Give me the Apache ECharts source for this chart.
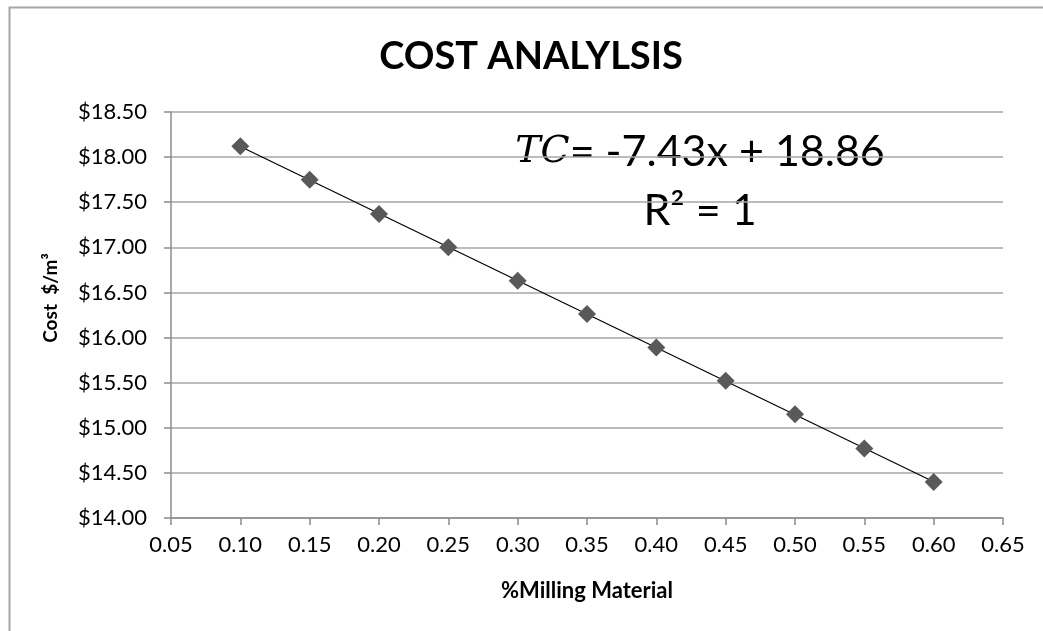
<!DOCTYPE html>
<html>
<head>
<meta charset="utf-8">
<script src="https://cdn.jsdelivr.net/npm/echarts@6/dist/echarts.min.js"></script>
<style>
html,body{margin:0;padding:0;background:#fff;}
#chart{width:1043px;height:631px;}
</style>
</head>
<body>
<div id="chart"></div>
<script>
// Data
var millingFraction = [0.10, 0.15, 0.20, 0.25, 0.30, 0.35, 0.40, 0.45, 0.50, 0.55, 0.60];
var costPerM3 = [18.12, 17.75, 17.37, 17.00, 16.63, 16.26, 15.89, 15.52, 15.15, 14.77, 14.40];
var trendSlope = -7.43;
var trendIntercept = 18.86;
var trendRange = [0.10, 0.60];
var titleText = 'COST ANALYLSIS';
var xAxisName = '%Milling Material';
var yAxisName = 'Cost  $/m\u00B3';

var points = millingFraction.map(function (x, i) { return [x, costPerM3[i]]; });
var trend = trendRange.map(function (x) { return [x, trendSlope * x + trendIntercept]; });

var FONT = 'Lato, "Open Sans", sans-serif';
var chart = echarts.init(document.getElementById('chart'));
chart.setOption({
  backgroundColor: '#fff',
  animation: false,
  title: {
    text: titleText,
    left: 526, top: 33, textAlign: 'center',
    textStyle: { fontFamily: FONT, fontSize: 38, fontWeight: 'bold', color: '#000' }
  },
  grid: { left: 171, right: 40, top: 112, bottom: 113 },
  xAxis: {
    type: 'value', min: 0.05, max: 0.65, interval: 0.05,
    name: xAxisName, nameLocation: 'middle', nameGap: 62,
    nameTextStyle: { fontFamily: FONT, fontSize: 22, fontWeight: 'bold', color: '#000' },
    axisLine: { show: true, onZero: false, lineStyle: { color: '#8c8c8c', width: 1.5 } },
    axisTick: { show: true, inside: false, length: 7, lineStyle: { color: '#8c8c8c', width: 1.5 } },
    axisLabel: { fontFamily: FONT, fontSize: 22, color: '#000', margin: 16,
      formatter: function (v) { return v.toFixed(2); } },
    splitLine: { show: false }
  },
  yAxis: {
    type: 'value', min: 14, max: 18.5, interval: 0.5,
    axisLine: { show: true, lineStyle: { color: '#8c8c8c', width: 1.5 } },
    axisTick: { show: true, inside: false, length: 7, lineStyle: { color: '#8c8c8c', width: 1.5 } },
    axisLabel: { fontFamily: FONT, fontSize: 22, color: '#000', margin: 24,
      formatter: function (v) { return '$' + v.toFixed(2); } },
    splitLine: { show: true, lineStyle: { color: '#a6a6a6', width: 1.5 } }
  },
  series: [
    {
      type: 'line', data: trend, symbol: 'none', silent: true, z: 2,
      lineStyle: { color: '#000', width: 1.2 }
    },
    {
      type: 'scatter', data: points, symbol: 'diamond', symbolSize: [18, 18], z: 3,
      itemStyle: { color: '#595959', opacity: 1 }
    }
  ],
  graphic: [
    {
      type: 'rect', left: 7, top: 5, silent: true,
      shape: { width: 1100, height: 700 },
      style: { fill: 'none', stroke: '#a6a6a6', lineWidth: 2 }
    },
    {
      type: 'text', x: 51, y: 298, rotation: Math.PI / 2, silent: true,
      style: {
        text: yAxisName, align: 'center', verticalAlign: 'middle',
        fontFamily: FONT, fontSize: 19, fontWeight: 'bold', fill: '#000'
      }
    },
    {
      type: 'text', x: 700, y: 152, silent: true,
      style: {
        text: '{i|TC}{n|= -7.43x + 18.86}',
        align: 'center', verticalAlign: 'middle',
        rich: {
          i: { fontFamily: '"DejaVu Serif", serif', fontStyle: 'italic', fontSize: 38, fill: '#000' },
          n: { fontFamily: FONT, fontSize: 43, fill: '#000' }
        }
      }
    },
    {
      type: 'text', x: 700, y: 211, silent: true,
      style: {
        text: 'R\u00B2 = 1', align: 'center', verticalAlign: 'middle',
        fontFamily: FONT, fontSize: 43, fill: '#000'
      }
    }
  ]
});
</script>
</body>
</html>
